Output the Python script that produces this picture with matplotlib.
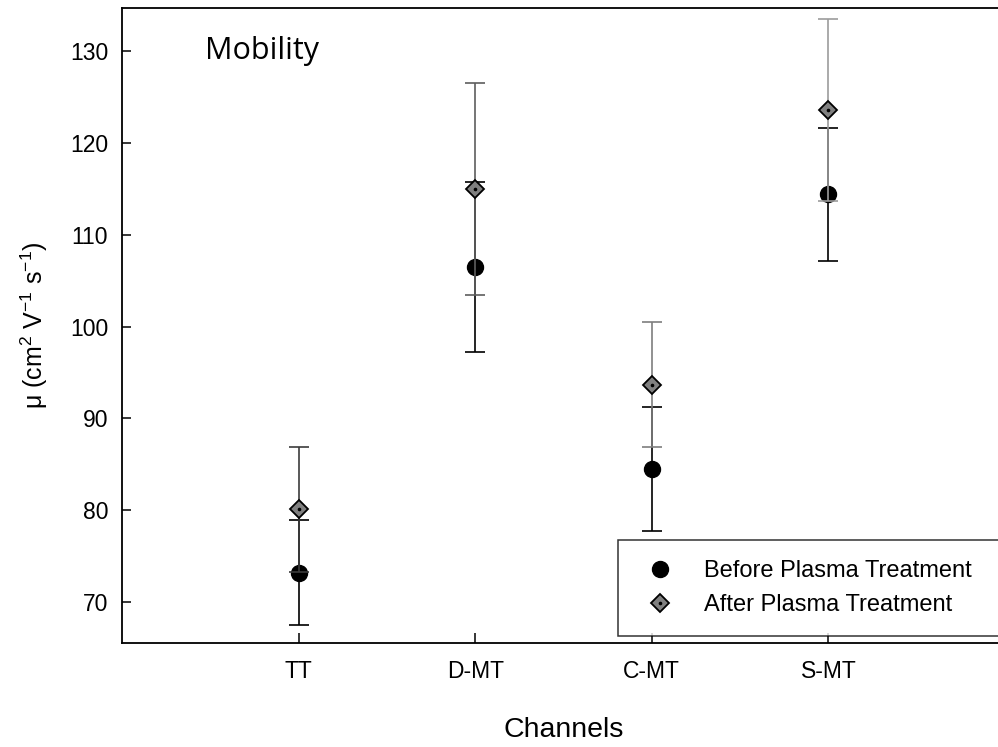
import matplotlib
matplotlib.use("Agg")
import matplotlib.pyplot as plt

# Channel mobility before/after plasma treatment (mean ± error)
channels = ["TT", "D-MT", "C-MT", "S-MT"]
before_mean = [73.2, 106.5, 84.5, 114.4]
before_err = [5.7, 9.3, 6.8, 7.2]
after_mean = [80.1, 115.0, 93.7, 123.6]
after_err = [6.8, 11.5, 6.8, 9.9]

# grey shade used for each channel's "after" error bar
after_err_colors = ["#3c3c3c", "#5e5e5e", "#7e7e7e", "#9c9c9c"]

plt.rcParams["font.family"] = ["Liberation Sans", "DejaVu Sans"]
plt.rcParams["mathtext.fontset"] = "custom"
plt.rcParams["mathtext.rm"] = "Liberation Sans"
plt.rcParams["mathtext.it"] = "Liberation Sans:italic"

W, H = 998, 747
fig = plt.figure(figsize=(W / 100, H / 100), dpi=100)
ax = fig.add_axes([122 / W, 104 / H, 883 / W, 635 / H])

x = list(range(1, len(channels) + 1))

# before treatment: black circles with black error bars
ax.errorbar(x, before_mean, yerr=before_err, fmt="none", ecolor="black",
            elinewidth=1.2, capsize=7.2, capthick=1.2, zorder=2)
ax.plot(x, before_mean, linestyle="none", marker="o", markersize=11.5,
        markerfacecolor="black", markeredgecolor="black", zorder=3)

# after treatment: grey diamonds with grey error bars
for xi, m, e, c in zip(x, after_mean, after_err, after_err_colors):
    ax.errorbar([xi], [m], yerr=[e], fmt="none", ecolor=c,
                elinewidth=1.2, capsize=7.2, capthick=1.2, zorder=4)
ax.plot(x, after_mean, linestyle="none", marker="D", markersize=8.7,
        markerfacecolor="#808080", markeredgecolor="black",
        markeredgewidth=1.3, zorder=5)
ax.plot(x, after_mean, linestyle="none", marker="o", markersize=1.6,
        markerfacecolor="black", markeredgecolor="black", zorder=6)

ax.set_xlim(0, 5)
ax.set_ylim(65.55, 134.7)
ax.set_xticks(x)
ax.set_xticklabels(channels)
ax.set_yticks([70, 80, 90, 100, 110, 120, 130])

for side in ["left", "bottom", "top", "right"]:
    ax.spines[side].set_linewidth(1.3)

ax.tick_params(axis="y", direction="in", length=6.5, width=1.1,
               labelsize=16.5, pad=10)
ax.tick_params(axis="x", direction="in", length=7.5, width=1.1,
               labelsize=16.5, pad=12)

ax.set_xlabel("Channels", fontsize=20.5, labelpad=25)
ax.set_ylabel(r"μ (cm$^{2}$ V$^{-1}$ s$^{-1}$)", fontsize=18, labelpad=14)

ax.text(0.47, 129.1, "Mobility", fontsize=22, family=["Open Sans", "DejaVu Sans"],
        ha="left", va="baseline")

# legend
h_before = plt.Line2D([], [], linestyle="none", marker="o", markersize=11.5,
                      markerfacecolor="black", markeredgecolor="black")
h_after_d = plt.Line2D([], [], linestyle="none", marker="D", markersize=8.7,
                       markerfacecolor="#808080", markeredgecolor="black",
                       markeredgewidth=1.3)
h_after_dot = plt.Line2D([], [], linestyle="none", marker="o", markersize=1.6,
                         markerfacecolor="black", markeredgecolor="black")
leg = ax.legend([h_before, (h_after_d, h_after_dot)],
                ["Before Plasma Treatment", "After Plasma Treatment"],
                loc="upper left", mode="expand",
                bbox_to_anchor=(2.81, 60.0, 2.3, 16.75),
                bbox_transform=ax.transData, fontsize=17, frameon=True,
                fancybox=False, shadow=False, borderpad=0.85,
                handlelength=1.8, handletextpad=0.97, labelspacing=0.5,
                borderaxespad=0)
leg.get_frame().set_edgecolor("black")
leg.get_frame().set_linewidth(1.1)

fig.savefig("out.png", dpi=100)
